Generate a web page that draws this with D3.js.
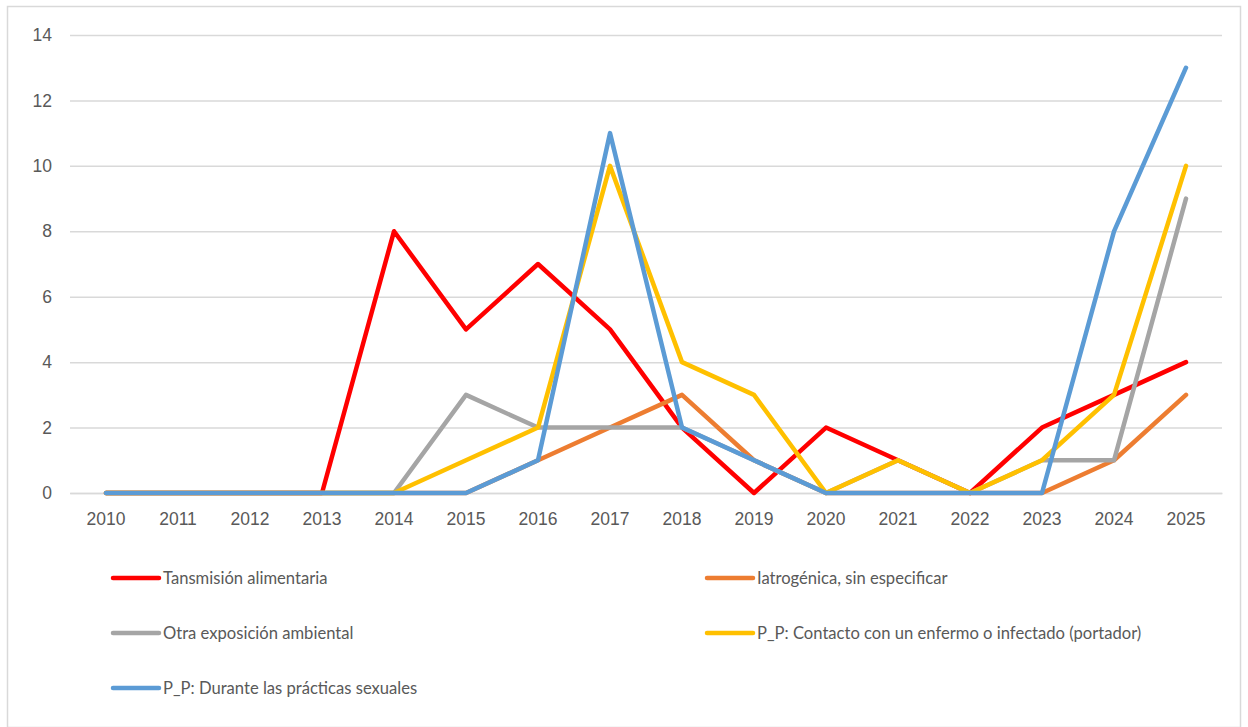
<!DOCTYPE html>
<html>
<head>
<meta charset="utf-8">
<script src="https://cdn.jsdelivr.net/npm/d3@7"></script>
<style>
  body { margin: 0; background: #fff; }
  svg { display: block; font-family: Lato, "Open Sans", sans-serif; }
</style>
</head>
<body>
<div id="canvas"></div>
<script>
// categories and series
const years = ["2010","2011","2012","2013","2014","2015","2016","2017","2018","2019","2020","2021","2022","2023","2024","2025"];
const yTicks = [0, 2, 4, 6, 8, 10, 12, 14];

const alimentaria = [0,0,0,0,8,5,7,5,2,0,2,1,0,2,3,4];
const iatrogenica = [0,0,0,0,0,0,1,2,3,1,0,0,0,0,1,3];
const ambiental   = [0,0,0,0,0,3,2,2,2,1,0,1,0,1,1,9];
const contacto    = [0,0,0,0,0,1,2,10,4,3,0,1,0,1,3,10];
const sexuales    = [0,0,0,0,0,0,1,11,2,1,0,0,0,0,8,13];

const seriesNames = [
  "Tansmisión alimentaria",
  "Iatrogénica, sin especificar",
  "Otra exposición ambiental",
  "P_P: Contacto con un enfermo o infectado (portador)",
  "P_P: Durante las prácticas sexuales"
];
const seriesValues = [alimentaria, iatrogenica, ambiental, contacto, sexuales];
const colors = ["#ff0000", "#ed7d31", "#a5a5a5", "#ffc000", "#5b9bd5"];

const series = seriesNames.map((name, i) => ({name, values: seriesValues[i], color: colors[i]}));

const width = 1248;
const height = 727;
const marginTop = 35;
const marginRight = 26;
const marginBottom = 234;
const marginLeft = 70;

const svg = d3.select("#canvas")
  .append("svg")
  .attr("width", width)
  .attr("height", height)
  .attr("viewBox", [0, 0, width, height]);

// chart frame
svg.append("rect")
  .attr("x", 7.5).attr("y", 6.5)
  .attr("width", width - 15).attr("height", height - 6)
  .attr("fill", "#fff")
  .attr("stroke", "#d9d9d9")
  .attr("stroke-width", 1.5);

const x = d3.scaleBand()
  .domain(years)
  .range([marginLeft, width - marginRight]);

const y = d3.scaleLinear()
  .domain([0, 14])
  .range([height - marginBottom, marginTop]);

// y axis with gridlines
svg.append("g")
  .attr("transform", `translate(${marginLeft},0)`)
  .call(d3.axisLeft(y).tickValues(yTicks).tickSize(-(width - marginLeft - marginRight)).tickPadding(18))
  .call(g => g.select(".domain").remove())
  .call(g => g.selectAll(".tick line").attr("stroke", "#d9d9d9").attr("stroke-width", 1.5))
  .call(g => g.selectAll(".tick text").attr("fill", "#595959").attr("font-size", 17.5));

// x axis
svg.append("g")
  .attr("transform", `translate(0,${height - marginBottom})`)
  .call(d3.axisBottom(x).tickSize(0).tickPadding(20))
  .call(g => g.select(".domain").attr("stroke", "#d9d9d9").attr("stroke-width", 1.5))
  .call(g => g.selectAll(".tick text").attr("fill", "#595959").attr("font-size", 17.5));

const line = d3.line()
  .x((d, i) => x(years[i]) + x.bandwidth() / 2)
  .y(d => y(d));

svg.append("g")
  .attr("fill", "none")
  .attr("stroke-width", 4.5)
  .attr("stroke-linejoin", "round")
  .attr("stroke-linecap", "round")
  .selectAll("path")
  .data(series)
  .join("path")
    .attr("stroke", d => d.color)
    .attr("d", d => line(d.values));

// legend, two columns
const legend = svg.append("g")
  .selectAll("g")
  .data(series)
  .join("g")
    .attr("transform", (d, i) => `translate(${i % 2 ? 707 : 113},${578 + Math.floor(i / 2) * 55})`);

legend.append("line")
  .attr("x1", 0).attr("x2", 46)
  .attr("stroke", d => d.color)
  .attr("stroke-width", 4.5)
  .attr("stroke-linecap", "round");

legend.append("text")
  .attr("x", 50)
  .attr("dy", "0.35em")
  .attr("fill", "#595959")
  .attr("font-size", 16.6)
  .text(d => d.name);
</script>
</body>
</html>
